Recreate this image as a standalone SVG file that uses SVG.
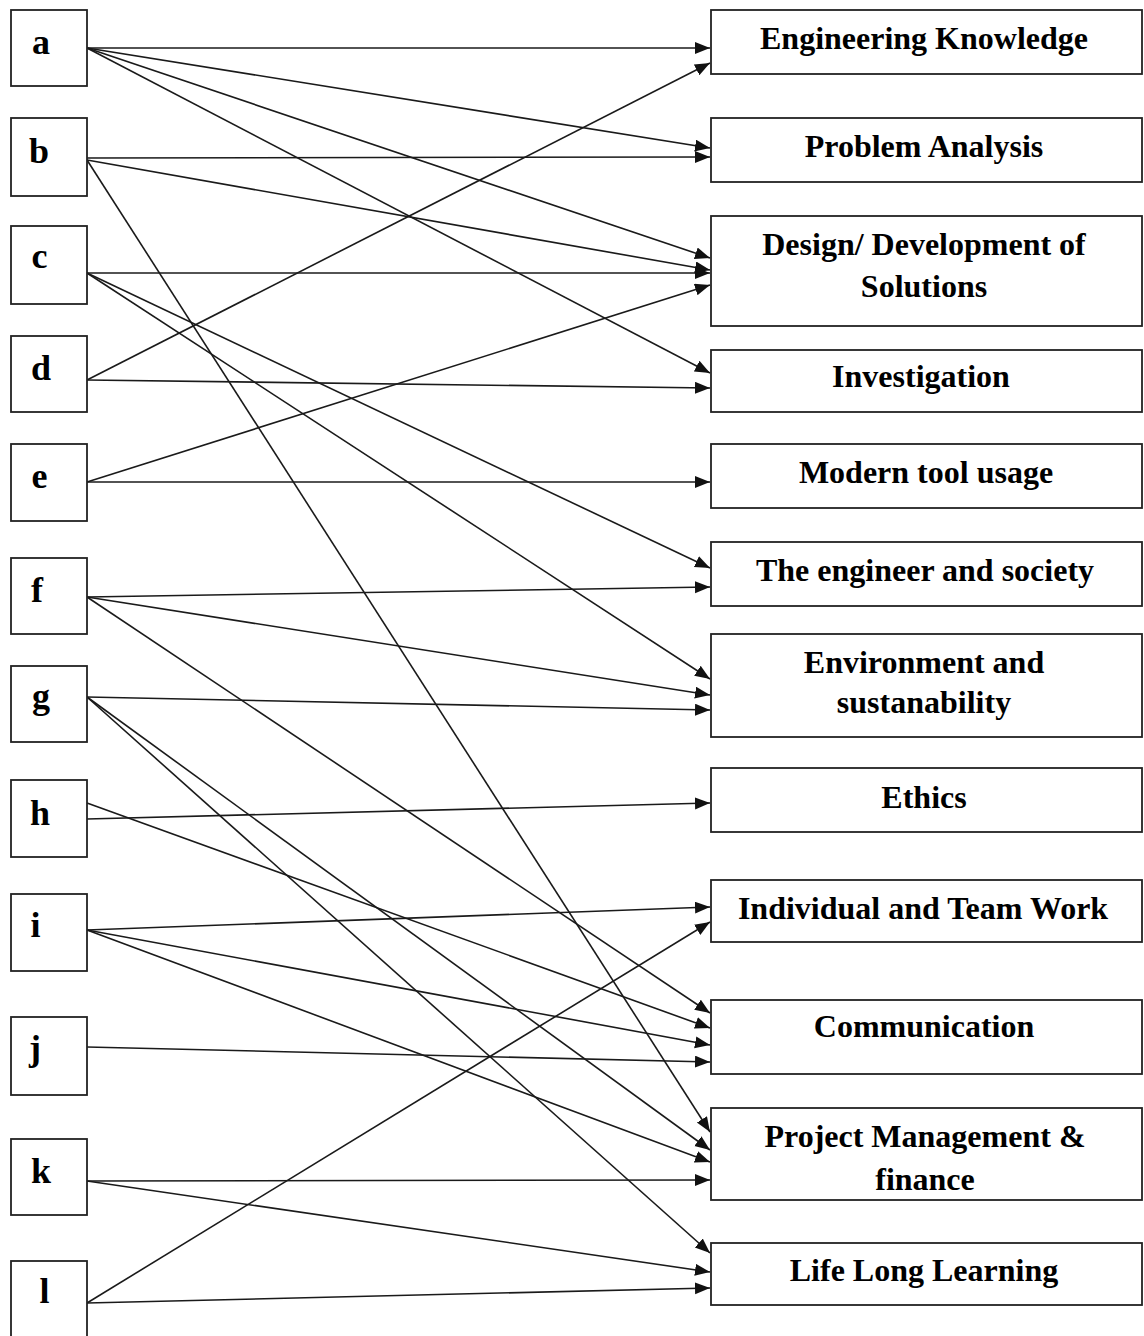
<svg xmlns="http://www.w3.org/2000/svg" width="1144" height="1336" viewBox="0 0 1144 1336">
  <defs>
    <marker id="arrow" markerUnits="userSpaceOnUse" markerWidth="16" markerHeight="13" refX="15" refY="6" orient="auto">
      <path d="M0,0 L15,6 L0,12 z" fill="#111"/>
    </marker>
    <style>
      .box { fill: #fff; stroke: #222; stroke-width: 1.8; }
      .src { font-family: "Liberation Serif", "Times New Roman", serif; font-weight: bold; font-size: 36px; fill: #000; text-anchor: middle; }
      .out { font-family: "Liberation Serif", "Times New Roman", serif; font-weight: bold; font-size: 32px; fill: #000; text-anchor: middle; }
      .edge { stroke: #1a1a1a; stroke-width: 1.6; fill: none; marker-end: url(#arrow); }
    </style>
  </defs>
  <rect width="1144" height="1336" fill="#fff"/>

  <!-- connectors -->
  <g id="connectors">
    <line class="edge" x1="87" y1="48" x2="710" y2="48"/>
    <line class="edge" x1="87" y1="48" x2="710" y2="148"/>
    <line class="edge" x1="87" y1="48" x2="710" y2="258"/>
    <line class="edge" x1="87" y1="48" x2="710" y2="373"/>

    <line class="edge" x1="87" y1="158" x2="710" y2="157"/>
    <line class="edge" x1="87" y1="160" x2="710" y2="270"/>
    <line class="edge" x1="87" y1="160" x2="710" y2="1132"/>

    <line class="edge" x1="87" y1="273" x2="710" y2="273"/>
    <line class="edge" x1="87" y1="273" x2="710" y2="568"/>
    <line class="edge" x1="87" y1="273" x2="710" y2="679"/>

    <line class="edge" x1="87" y1="380" x2="710" y2="63"/>
    <line class="edge" x1="87" y1="380" x2="710" y2="388"/>

    <line class="edge" x1="87" y1="482" x2="710" y2="285"/>
    <line class="edge" x1="87" y1="482" x2="710" y2="482"/>

    <line class="edge" x1="87" y1="597" x2="710" y2="587"/>
    <line class="edge" x1="87" y1="597" x2="710" y2="695"/>
    <line class="edge" x1="87" y1="597" x2="710" y2="1013"/>

    <line class="edge" x1="87" y1="697" x2="710" y2="710"/>
    <line class="edge" x1="87" y1="697" x2="710" y2="1150"/>
    <line class="edge" x1="87" y1="697" x2="710" y2="1253"/>

    <line class="edge" x1="87" y1="803" x2="710" y2="1028"/>
    <line class="edge" x1="87" y1="819" x2="710" y2="803"/>

    <line class="edge" x1="87" y1="930" x2="710" y2="907"/>
    <line class="edge" x1="87" y1="930" x2="710" y2="1045"/>
    <line class="edge" x1="87" y1="930" x2="710" y2="1162"/>

    <line class="edge" x1="87" y1="1047" x2="710" y2="1062"/>

    <line class="edge" x1="87" y1="1181" x2="710" y2="1180"/>
    <line class="edge" x1="87" y1="1181" x2="710" y2="1272"/>

    <line class="edge" x1="87" y1="1303" x2="710" y2="922"/>
    <line class="edge" x1="87" y1="1303" x2="710" y2="1288"/>
  </g>

  <!-- source letters -->
  <g id="node-a"><rect class="box" x="11" y="10" width="76" height="76"/><text class="src" x="41" y="54">a</text></g>
  <g id="node-b"><rect class="box" x="11" y="118" width="76" height="78"/><text class="src" x="39" y="163">b</text></g>
  <g id="node-c"><rect class="box" x="11" y="226" width="76" height="78"/><text class="src" x="39.5" y="268">c</text></g>
  <g id="node-d"><rect class="box" x="11" y="336" width="76" height="76"/><text class="src" x="41" y="380">d</text></g>
  <g id="node-e"><rect class="box" x="11" y="444" width="76" height="77"/><text class="src" x="39.5" y="488">e</text></g>
  <g id="node-f"><rect class="box" x="11" y="558" width="76" height="76"/><text class="src" x="37" y="602">f</text></g>
  <g id="node-g"><rect class="box" x="11" y="666" width="76" height="76"/><text class="src" x="41" y="708">g</text></g>
  <g id="node-h"><rect class="box" x="11" y="780" width="76" height="77"/><text class="src" x="40" y="825">h</text></g>
  <g id="node-i"><rect class="box" x="11" y="894" width="76" height="77"/><text class="src" x="35.5" y="937">i</text></g>
  <g id="node-j"><rect class="box" x="11" y="1017" width="76" height="78"/><text class="src" x="35" y="1060">j</text></g>
  <g id="node-k"><rect class="box" x="11" y="1139" width="76" height="76"/><text class="src" x="41" y="1183">k</text></g>
  <g id="node-l"><rect class="box" x="11" y="1261" width="76" height="80"/><text class="src" x="44.5" y="1303">l</text></g>

  <!-- outcome boxes -->
  <g id="node-engineering-knowledge"><rect class="box" x="711" y="10" width="431" height="64"/><text class="out" x="924" y="49">Engineering Knowledge</text></g>
  <g id="node-problem-analysis"><rect class="box" x="711" y="118" width="431" height="64"/><text class="out" x="924" y="157">Problem Analysis</text></g>
  <g id="node-design"><rect class="box" x="711" y="216" width="431" height="110"/><text class="out" x="924" y="255">Design/ Development of</text><text class="out" x="924" y="297">Solutions</text></g>
  <g id="node-investigation"><rect class="box" x="711" y="350" width="431" height="62"/><text class="out" x="921" y="387">Investigation</text></g>
  <g id="node-modern-tool"><rect class="box" x="711" y="444" width="431" height="64"/><text class="out" x="926" y="483">Modern tool usage</text></g>
  <g id="node-society"><rect class="box" x="711" y="542" width="431" height="64"/><text class="out" x="925" y="581">The engineer and society</text></g>
  <g id="node-environment"><rect class="box" x="711" y="634" width="431" height="103"/><text class="out" x="924" y="673">Environment and</text><text class="out" x="924" y="713">sustanability</text></g>
  <g id="node-ethics"><rect class="box" x="711" y="768" width="431" height="64"/><text class="out" x="924" y="808">Ethics</text></g>
  <g id="node-team-work"><rect class="box" x="711" y="880" width="431" height="62"/><text class="out" x="923" y="919">Individual and Team Work</text></g>
  <g id="node-communication"><rect class="box" x="711" y="1000" width="431" height="74"/><text class="out" x="924" y="1037">Communication</text></g>
  <g id="node-project"><rect class="box" x="711" y="1108" width="431" height="92"/><text class="out" x="925" y="1147">Project Management &amp;</text><text class="out" x="925" y="1190">finance</text></g>
  <g id="node-life-long"><rect class="box" x="711" y="1243" width="431" height="62"/><text class="out" x="924" y="1281">Life Long Learning</text></g>
</svg>
